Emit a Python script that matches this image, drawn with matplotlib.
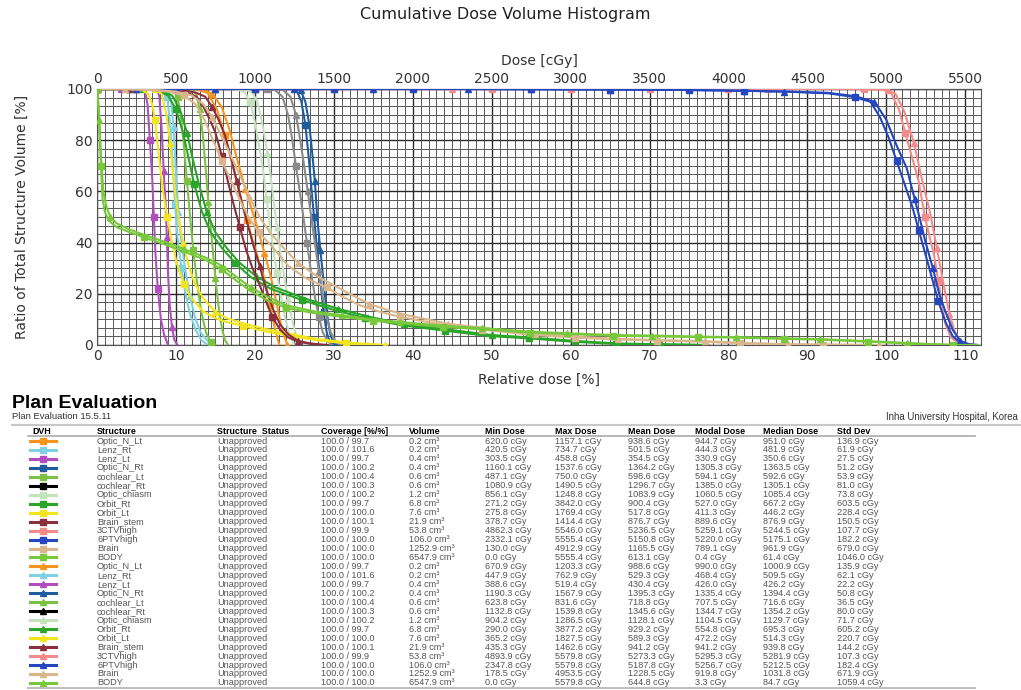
import matplotlib
matplotlib.use('Agg')
import matplotlib.pyplot as plt
from matplotlib.lines import Line2D
import numpy as np

# Estructuras (orden de la tabla)
structures = ['Optic_N_Lt', 'Lenz_Rt', 'Lenz_Lt', 'Optic_N_Rt', 'cochlear_Lt', 'cochlear_Rt',
              'Optic_chiasm', 'Orbit_Rt', 'Orbit_Lt', 'Brain_stem', '3CTVhigh', '6PTVhigh',
              'Brain', 'BODY']
colors = ['#f7941d', '#7fd0e0', '#b24fbf', '#1f5c9e', '#7cc242', '#000000',
          '#c4e3bc', '#2aa52a', '#f2e51e', '#8c2f3c', '#f58a8a', '#2447c0',
          '#d9b68c', '#78c83c']
curve_colors = list(colors)
curve_colors[5] = '#8a8a8a'

# Tabla de evaluacion
coverage_1 = [99.7, 101.6, 99.7, 100.2, 100.4, 100.3, 100.2, 99.7, 100.0, 100.1, 99.9, 100.0, 100.0, 100.0]
coverage_2 = [99.7, 101.6, 99.7, 100.2, 100.4, 100.3, 100.2, 99.7, 100.0, 100.1, 99.9, 100.0, 100.0, 100.0]
volume = [0.2, 0.2, 0.4, 0.4, 0.6, 0.6, 1.2, 6.8, 7.6, 21.9, 53.8, 106.0, 1252.9, 6547.9]
min_1 = [620.0, 420.5, 303.5, 1160.1, 487.1, 1080.9, 856.1, 271.2, 275.8, 378.7, 4862.3, 2332.1, 130.0, 0.0]
max_1 = [1157.1, 734.7, 458.8, 1537.6, 750.0, 1490.5, 1248.8, 3842.0, 1769.4, 1414.4, 5546.0, 5555.4, 4912.9, 5555.4]
mean_1 = [938.6, 501.5, 354.5, 1364.2, 598.6, 1296.7, 1083.9, 900.4, 517.8, 876.7, 5236.5, 5150.8, 1165.5, 613.1]
modal_1 = [944.7, 444.3, 330.9, 1305.3, 594.1, 1385.0, 1060.5, 527.0, 411.3, 889.6, 5259.1, 5220.0, 789.1, 0.4]
median_1 = [951.0, 481.9, 350.6, 1363.5, 592.6, 1305.1, 1085.4, 667.2, 446.2, 876.9, 5244.5, 5175.1, 961.9, 61.4]
std_1 = [136.9, 61.9, 27.5, 51.2, 53.9, 81.0, 73.8, 603.5, 228.4, 150.5, 107.7, 182.2, 679.0, 1046.0]
min_2 = [670.9, 447.9, 388.6, 1190.3, 623.8, 1132.8, 904.2, 290.0, 365.2, 435.3, 4893.9, 2347.8, 178.5, 0.0]
max_2 = [1203.3, 762.9, 519.4, 1567.9, 831.6, 1539.8, 1286.5, 3877.2, 1827.5, 1462.6, 5579.8, 5579.8, 4953.5, 5579.8]
mean_2 = [988.6, 529.3, 430.4, 1395.3, 718.8, 1345.6, 1128.1, 929.2, 589.3, 941.2, 5273.3, 5187.8, 1228.5, 644.8]
modal_2 = [990.0, 468.4, 426.0, 1335.4, 707.5, 1344.7, 1104.5, 554.8, 472.2, 941.2, 5295.3, 5256.7, 919.8, 3.3]
median_2 = [1000.9, 509.5, 426.2, 1394.4, 716.6, 1354.2, 1129.7, 695.3, 514.3, 939.8, 5281.9, 5212.5, 1031.8, 84.7]
std_2 = [135.9, 62.1, 22.2, 50.8, 36.5, 80.0, 71.7, 605.2, 220.7, 144.2, 107.3, 182.4, 671.9, 1059.4]

# Curvas DVH: (dosis relativa %, volumen %)
optic_n_lt_1 = [(0, 100), (5, 100), (10, 100), (12.4, 100), (14, 98.5), (15.2, 92), (16.2, 82), (17.2, 70),
                (18.2, 58), (19, 49), (19.8, 40), (20.6, 32), (21.3, 25), (21.9, 16), (22.5, 7), (23.1, 0)]
optic_n_lt_2 = [(0, 100), (5, 100), (10, 100), (13.4, 100), (14.6, 98), (15.8, 93), (16.8, 84), (17.8, 72),
                (18.8, 61), (19.6, 53), (20.4, 45), (21.2, 36), (22, 27), (22.7, 17), (23.3, 8), (24.1, 0)]
lenz_rt_1 = [(0, 100), (4, 100), (8.4, 100), (8.9, 97), (9.3, 85), (9.6, 70), (9.9, 55), (10.2, 42),
             (10.7, 30), (11.2, 20), (11.8, 12), (12.5, 6), (13.2, 2), (14.0, 0)]
lenz_rt_2 = [(0, 100), (4, 100), (9.0, 100), (9.4, 95), (9.7, 85), (10.0, 68), (10.3, 52), (10.7, 40),
             (11.2, 29), (11.8, 19), (12.4, 11), (13.1, 5), (13.9, 2), (14.6, 0)]
lenz_lt_1 = [(0, 100), (3, 100), (5.8, 100), (6.1, 99), (6.4, 94), (6.7, 80), (7.0, 65), (7.2, 50),
             (7.4, 36), (7.7, 22), (8.1, 10), (8.5, 4), (9.0, 0)]
lenz_lt_2 = [(0, 100), (3, 100), (7.6, 100), (7.9, 97), (8.2, 84), (8.45, 68), (8.7, 55), (8.85, 42),
             (9.0, 28), (9.2, 16), (9.5, 7), (9.8, 2), (10.2, 0)]
optic_n_rt_1 = [(0, 100), (5, 100), (10, 100), (15, 100), (20, 100), (24.5, 100), (25.3, 99.5), (25.9, 95),
                (26.4, 86), (26.8, 74), (27.2, 60), (27.5, 50), (27.9, 37), (28.3, 25), (28.7, 13),
                (29.1, 5), (29.5, 1), (30.2, 0)]
optic_n_rt_2 = [(0, 100), (5, 100), (10, 100), (15, 100), (20, 100), (25, 100), (25.8, 99.5), (26.4, 95),
                (26.9, 86), (27.3, 74), (27.6, 64), (27.9, 50), (28.3, 37), (28.7, 25), (29.1, 13),
                (29.5, 5), (29.9, 1), (30.6, 0)]
cochlear_lt_1 = [(0, 100), (4, 100), (8, 100), (9.7, 100), (10.2, 97), (10.6, 90), (11.0, 78), (11.4, 64),
                 (11.8, 50), (12.2, 37), (12.7, 24), (13.2, 13), (13.8, 5), (14.4, 1), (15.0, 0)]
cochlear_lt_2 = [(0, 100), (4, 100), (8, 100), (12.0, 100), (12.6, 98), (13.0, 92), (13.4, 82), (13.8, 68),
                 (14.1, 56), (14.4, 46), (14.7, 36), (15.0, 26), (15.4, 15), (15.8, 7), (16.2, 2), (16.6, 0)]
cochlear_rt_1 = [(0, 100), (5, 100), (10, 100), (15, 100), (20, 100), (21.6, 100), (22.6, 99.5), (23.5, 97),
                 (24.2, 90), (24.7, 81), (25.2, 70), (25.7, 60), (26.1, 51), (26.6, 40), (27.1, 29),
                 (27.6, 19), (28.1, 11), (28.6, 5), (29.2, 1.5), (29.8, 0)]
cochlear_rt_2 = [(0, 100), (5, 100), (10, 100), (15, 100), (20, 100), (22.7, 100), (23.6, 99.5), (24.5, 97),
                 (25.2, 90), (25.7, 81), (26.2, 71), (26.7, 60), (27.1, 51), (27.6, 40), (28.1, 29),
                 (28.6, 19), (29.1, 11), (29.6, 5), (30.2, 1.5), (30.8, 0)]
optic_chiasm_1 = [(0, 100), (5, 100), (10, 100), (15, 100), (17.1, 100), (18.2, 99.5), (18.8, 98.5),
                  (19.4, 95), (19.8, 90), (20.2, 84), (20.7, 75), (21.1, 67), (21.5, 57), (21.9, 47),
                  (22.3, 38), (22.8, 28), (23.3, 19), (23.8, 11), (24.3, 5), (25.0, 0)]
optic_chiasm_2 = [(0, 100), (5, 100), (10, 100), (15, 100), (18.1, 100), (19.1, 99.5), (19.7, 98.5),
                  (20.3, 95), (20.7, 90), (21.1, 84), (21.6, 75), (22.0, 66), (22.4, 56), (22.8, 46),
                  (23.2, 37), (23.7, 27), (24.2, 18), (24.7, 10), (25.2, 4), (25.7, 0)]
orbit_rt_1 = [(0, 100), (3, 100), (5.4, 100), (7.5, 99.5), (9, 97.5), (10, 92), (10.9, 83), (11.6, 73),
              (12.3, 63), (13.3, 52), (14.4, 44), (15.8, 38), (17.5, 32), (19.5, 26.5), (22, 22),
              (26, 17.5), (30, 13.7), (34, 10.5), (38.4, 7.8), (44.1, 5.6), (49.6, 3.5), (54.7, 2.6),
              (60.2, 1.3), (65.7, 0.4), (71, 0.2), (76.8, 0)]
orbit_rt_2 = [(0, 100), (3, 100), (5.8, 100), (8, 99.5), (9.5, 97.5), (10.5, 92), (11.4, 83), (12.1, 73),
              (12.9, 63), (13.9, 52), (15, 44), (16.4, 38), (18.1, 32), (20.1, 27), (22.6, 22.5),
              (26.5, 18), (30.5, 14.2), (34.5, 11), (38.9, 8.2), (44.5, 6), (50, 3.9), (55, 2.9),
              (60.5, 1.6), (66, 0.6), (71.5, 0.3), (77.5, 0)]
orbit_lt_1 = [(0, 100), (3, 100), (5.5, 100), (6.5, 98), (7.0, 94), (7.35, 88), (7.8, 75), (8.3, 61),
              (8.9, 50), (9.5, 40), (10.1, 32), (11, 24), (12, 18), (13.5, 13), (15, 10.5), (16.4, 9),
              (18.5, 7.5), (21, 5.5), (24.9, 3.3), (28, 1.8), (31.6, 0.6), (35.4, 0)]
orbit_lt_2 = [(0, 100), (3, 100), (7.3, 100), (8.2, 98), (8.8, 90), (9.25, 79), (9.7, 65), (10.3, 50),
              (10.9, 40), (11.6, 31), (12.4, 24), (13.5, 18), (15, 13), (16.4, 10.5), (18.5, 8.5),
              (21, 6.5), (24.9, 4), (28, 2.3), (32, 0.9), (36.5, 0)]
brain_stem_1 = [(0, 100), (4, 100), (7.6, 100), (10, 99.5), (11.5, 98.5), (12.6, 97), (13.5, 93), (14.3, 88),
                (15, 83), (15.8, 74), (16.5, 65), (17.3, 55), (18.1, 46), (18.9, 37), (19.7, 30),
                (20.4, 25), (21.3, 18), (22.2, 11), (23.2, 6), (24.2, 3), (25.5, 1.3), (27, 0.5), (28.3, 0)]
brain_stem_2 = [(0, 100), (4, 100), (8.7, 100), (11, 99.5), (12.6, 98.5), (13.7, 97), (14.6, 93), (15.4, 88),
                (16.2, 82), (17, 73), (17.7, 64), (18.4, 55), (19.1, 47), (19.8, 39), (20.6, 31),
                (21.4, 22), (22.3, 14), (23.2, 8), (24.3, 4), (25.5, 1.6), (27, 0.6), (29.3, 0)]
ctv_high_1 = [(0, 100), (10, 100), (20, 100), (30, 100), (40, 100), (50, 100), (60, 100), (70, 100),
              (80, 100), (90, 100), (97.2, 100), (99.5, 99.8), (100.6, 98.5), (101.6, 92), (102.4, 83),
              (103.2, 74), (104.1, 64), (104.9, 50), (105.5, 42), (106.0, 36), (106.6, 25), (107.1, 15),
              (107.5, 8), (108.2, 3), (109, 1), (110, 0.2), (110.9, 0)]
ctv_high_2 = [(0, 100), (5, 100), (15, 100), (25, 100), (35, 100), (45, 100), (55, 100), (65, 100),
              (75, 100), (85, 100), (95, 100), (97.9, 100), (100.2, 99.7), (101.2, 98), (102.3, 91),
              (103.5, 79), (104.5, 65), (105.6, 51), (106.4, 38), (107.3, 23), (108, 12), (108.7, 5),
              (109.4, 1.5), (110.5, 0.3), (111.6, 0)]
ptv_high_1 = [(0, 100), (10, 100), (20, 100), (30, 100), (40, 100), (46.6, 100), (55, 99.9), (65, 99.8),
              (75, 99.6), (82, 99.3), (87, 99), (92.7, 98.3), (96, 96.8), (98, 95), (99.2, 89),
              (100.3, 81), (101.3, 72), (102.3, 63), (103.3, 54), (104.1, 45), (105, 35), (105.8, 26),
              (106.6, 17), (107.5, 9), (108.4, 3.5), (109.4, 0.8), (110.3, 0.2), (111.1, 0)]
ptv_high_2 = [(0, 100), (5, 100), (15, 100), (25, 100), (35, 100), (47, 100), (55, 99.9), (65, 99.8),
              (75, 99.6), (82, 99.3), (87, 99), (92.7, 98.5), (96, 97.2), (98.5, 95), (100, 88),
              (101.3, 78), (102.6, 69), (103.6, 57), (104.2, 50), (104.9, 41), (105.9, 30), (106.7, 20),
              (107.5, 13), (108.4, 6), (109.4, 1.5), (110.5, 0.3), (111.6, 0)]
brain_1 = [(0, 100), (2.6, 100), (6, 99.7), (9, 99), (11, 97.5), (12.5, 94), (13.6, 88), (14.7, 80),
           (15.8, 72), (17, 64), (18.2, 56), (19.2, 50), (20.5, 44), (22.3, 38), (24.2, 31), (26.5, 26),
           (29.1, 22.5), (31, 19), (33.3, 15.5), (35.8, 13), (38.4, 11), (43.9, 7.8), (48.8, 6),
           (54.9, 4), (60.5, 2.9), (65.4, 2.2), (71, 1.7), (76.5, 1.3), (81.5, 0.6), (86.9, 0.2),
           (92, 0.1), (98.3, 0)]
brain_2 = [(0, 100), (3.6, 100), (7, 99.7), (10, 99), (12, 97.5), (13.5, 94), (14.6, 89), (15.7, 82),
           (16.8, 75), (18, 67), (19.3, 58), (20.6, 50), (21.9, 44), (23.6, 38), (25.5, 32), (27.8, 27),
           (30.2, 23), (32.3, 19.5), (34.5, 16), (37, 13.5), (39.5, 11.5), (44.5, 8.3), (49.5, 6.5),
           (55.5, 4.4), (61, 3.2), (66, 2.4), (71.5, 1.9), (77, 1.5), (82, 0.8), (87.5, 0.3),
           (93, 0.15), (99.1, 0)]
body_1 = [(0, 100), (0.1, 97), (0.3, 85), (0.5, 70), (0.7, 57), (1.0, 52), (1.5, 48.5), (2.5, 46),
          (4.2, 44), (6, 42), (8.4, 39.5), (11, 36.5), (13.9, 33), (15.8, 29.5), (17.7, 25), (19.5, 21),
          (21.5, 17.6), (24, 14.5), (27.4, 12.5), (31, 11), (35, 9.5), (38.4, 8.5), (43.9, 7),
          (48.8, 6.2), (54.9, 4.8), (59.5, 4.3), (65.4, 3.6), (70.3, 3.4), (76.2, 3.1), (80.9, 2.9),
          (87, 2.4), (91.6, 2.1), (97.7, 1.3), (102.6, 0.6), (106, 0.2), (108.5, 0), (111.1, 0)]
body_2 = [(0, 100), (0.1, 98), (0.3, 88), (0.5, 74), (0.8, 60), (1.2, 54), (1.7, 50), (2.5, 47.5),
          (4.2, 45), (6, 43), (8.4, 40.5), (11, 37.5), (13.9, 34), (15.8, 31), (17.7, 26.5), (19.5, 22.5),
          (21.5, 19), (24, 15.5), (27.4, 13.2), (31, 11.6), (35, 10), (38.4, 9), (43.9, 7.5),
          (48.8, 6.6), (54.9, 5.2), (59.5, 4.6), (65.4, 3.9), (70.3, 3.7), (76.2, 3.3), (80.9, 3.1),
          (87, 2.6), (91.6, 2.3), (97.7, 1.5), (102.6, 0.8), (106, 0.3), (109, 0), (111.6, 0)]

curves_1 = [optic_n_lt_1, lenz_rt_1, lenz_lt_1, optic_n_rt_1, cochlear_lt_1, cochlear_rt_1, optic_chiasm_1,
            orbit_rt_1, orbit_lt_1, brain_stem_1, ctv_high_1, ptv_high_1, brain_1, body_1]
curves_2 = [optic_n_lt_2, lenz_rt_2, lenz_lt_2, optic_n_rt_2, cochlear_lt_2, cochlear_rt_2, optic_chiasm_2,
            orbit_rt_2, orbit_lt_2, brain_stem_2, ctv_high_2, ptv_high_2, brain_2, body_2]

W, H = 1021, 690
fig = plt.figure(figsize=(W / 100, H / 100), dpi=100)


def fx(px):
    return px / W


def fy(py):
    return 1 - py / H


ax = fig.add_axes([fx(97), fy(345), fx(981) - fx(97), fy(89) - fy(345)])

for i in range(len(structures)):
    for curve, mk, start in ((curves_1[i], 's', 0.0), (curves_2[i], '^', 0.045)):
        d = [p[0] for p in curve]
        v = [p[1] for p in curve]
        ax.plot(d, v, color=curve_colors[i], lw=1.5, marker=mk, ms=4.5,
                markevery=(start, 0.09), zorder=3)

ax.set_xlim(0, 112)
ax.set_ylim(0, 100)
ax.set_xticks(np.arange(0, 111, 10))
ax.set_xticks(np.arange(0, 112.5, 1), minor=True)
ax.set_yticks(np.arange(0, 101, 20))
ax.set_yticks(np.linspace(0, 100, 31), minor=True)
ax.grid(True, which='minor', color='#5a5a5a', lw=0.7)
ax.grid(True, which='major', color='#2a2a2a', lw=1.0)
ax.set_axisbelow(True)
ax.tick_params(which='both', length=0, labelsize=10, labelcolor='#333333', pad=3)
for s in ax.spines.values():
    s.set_color('#555555')
    s.set_linewidth(0.8)

sec = ax.secondary_xaxis('top', functions=(lambda x: x * 50, lambda d: d / 50))
sec.set_xticks(np.arange(0, 5501, 500))
sec.tick_params(length=0, labelsize=10, labelcolor='#333333', pad=2)
sec.set_xlabel('Dose [cGy]', fontsize=10, color='#333333', labelpad=5)
ax.set_xlabel('Relative dose [%]', fontsize=10, color='#333333', labelpad=7)
ax.set_ylabel('Ratio of Total Structure Volume [%]', fontsize=10, color='#333333', labelpad=27)
fig.text(fx(505), fy(14), 'Cumulative Dose Volume Histogram', fontsize=11.5, color='#222222',
         ha='center', va='center')

# Tabla "Plan Evaluation"
tf = 'Liberation Sans'
fig.text(fx(12), fy(403), 'Plan Evaluation', fontsize=14, fontweight='bold', family=tf,
         ha='left', va='center')
fig.text(fx(12), fy(416.5), 'Plan Evaluation 15.5.11', fontsize=6.8, family=tf, color='#333333',
         ha='left', va='center')
fig.text(fx(886), fy(417), 'Inha University Hospital, Korea', fontsize=6.9, family=tf, color='#333333',
         ha='left', va='center')
fig.add_artist(Line2D([fx(12), fx(1021)], [fy(425), fy(425)], transform=fig.transFigure,
                      color='#c8c8c8', lw=1.5))

cols_x = [32, 97, 217, 321, 409, 485, 555, 628, 695, 763, 837]
headers = ['DVH', 'Structure', 'Structure  Status', 'Coverage [%/%]', 'Volume', 'Min Dose', 'Max Dose',
           'Mean Dose', 'Modal Dose', 'Median Dose', 'Std Dev']
for x, h in zip(cols_x, headers):
    fig.text(fx(x), fy(431.5), h, fontsize=6.4, fontweight='bold', family=tf, ha='left', va='center')
fig.add_artist(Line2D([fx(28), fx(975)], [fy(436), fy(436)], transform=fig.transFigure,
                      color='#aaaaaa', lw=1.2))

rows = []
for plan, mk, cov, mn, mx, me, mo, md, sd in (
        (1, 's', coverage_1, min_1, max_1, mean_1, modal_1, median_1, std_1),
        (2, '^', coverage_2, min_2, max_2, mean_2, modal_2, median_2, std_2)):
    for i, name in enumerate(structures):
        rows.append((colors[i], mk, [name, 'Unapproved', '100.0 / %.1f' % cov[i], '%.1f cm³' % volume[i],
                                     '%.1f cGy' % mn[i], '%.1f cGy' % mx[i], '%.1f cGy' % me[i],
                                     '%.1f cGy' % mo[i], '%.1f cGy' % md[i], '%.1f cGy' % sd[i]]))

y0, dy = 441.0, 8.96
for r, (c, mk, vals) in enumerate(rows):
    y = y0 + r * dy
    fig.add_artist(Line2D([fx(30), fx(56)], [fy(y), fy(y)], transform=fig.transFigure,
                          color=c, lw=2.2))
    fig.add_artist(Line2D([fx(43)], [fy(y)], transform=fig.transFigure, color=c,
                          marker=mk, ms=5, lw=0))
    for x, t in zip(cols_x[1:], vals):
        fig.text(fx(x), fy(y), t, fontsize=6.6, family=tf, color='#555555', ha='left', va='center')

fig.add_artist(Line2D([fx(28), fx(975)], [fy(688), fy(688)], transform=fig.transFigure,
                      color='#c0c0c0', lw=1.5))

fig.savefig('out.png', dpi=100)
